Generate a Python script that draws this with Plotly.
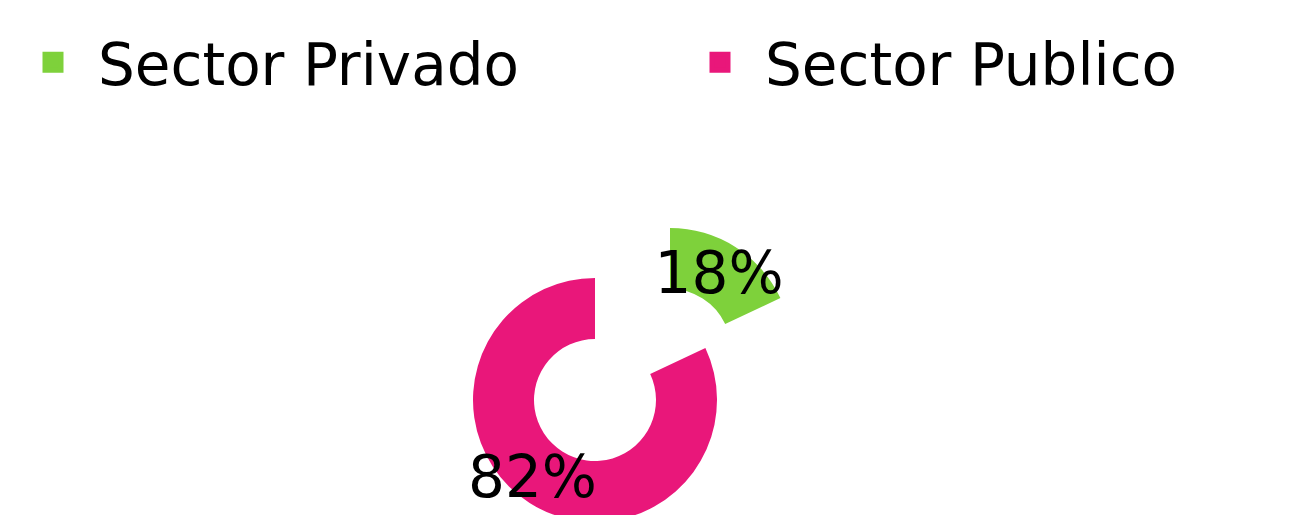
import math
import plotly.graph_objects as go

# ---- data ----
labels = ["Sector Privado", "Sector Publico"]
values = [18, 82]
colors = ["#7ED13B", "#E9177A"]

W, H = 1292, 515
FONT = "DejaVu Sans"
OFF = 8  # page body margin offset

def domain_from(cx, cy, r):
    cx -= OFF
    cy -= OFF
    return dict(x=[(cx - r) / W, (cx + r) / W],
                y=[(H - (cy + r)) / H, (H - (cy - r)) / H])

R = 122
HOLE = 0.5
pink_center = (595, 400)
green_center = (670, 350)
total = sum(values)
pct = [f"{round(100 * v / total)}%" for v in values]

fig = go.Figure()

# main ring (Sector Publico visible, Sector Privado slice hidden)
fig.add_trace(go.Pie(
    labels=labels, values=values, sort=False, direction="clockwise", rotation=0,
    hole=HOLE, marker=dict(colors=["rgba(0,0,0,0)", colors[1]], line=dict(width=0)),
    textinfo="none",
    domain=domain_from(*pink_center, R), showlegend=False, hoverinfo="label+percent",
))
# exploded slice (Sector Privado)
fig.add_trace(go.Pie(
    labels=labels, values=values, sort=False, direction="clockwise", rotation=0,
    hole=HOLE, marker=dict(colors=[colors[0], "rgba(0,0,0,0)"], line=dict(width=0)),
    texttemplate=["%{percent:.0%}", ""], textposition="inside",
    insidetextorientation="horizontal",
    textfont=dict(family=FONT, size=58, color="black"),
    domain=domain_from(*green_center, R), showlegend=False, hoverinfo="label+percent",
))

# label of the large slice, along its mid angle (best-fit style), kept inside the page
mid = 2 * math.pi * (values[0] + values[1] / 2) / total
rl = 0.95 * R
lx = pink_center[0] + rl * math.sin(mid) - OFF
fig.add_annotation(x=lx / W, y=(OFF + 2) / H, xref="paper", yref="paper",
                   text=pct[1], showarrow=False, xanchor="center", yanchor="bottom",
                   font=dict(family=FONT, size=58, color="black"))

# legend entries (one legend box per entry)
legend_ids = ["legend", "legend2"]
for lab, col, lid in zip(labels, colors, legend_ids):
    fig.add_trace(go.Scatter(x=[None], y=[None], mode="markers", name=lab, legend=lid,
                             marker=dict(symbol="square", size=16, color=col,
                                         line=dict(width=5, color=col))))

leg_common = dict(orientation="h", xanchor="left", y=1 - 10 / H, yanchor="top",
                  font=dict(family=FONT, size=58, color="black"),
                  bgcolor="rgba(0,0,0,0)", itemwidth=80)

fig.update_layout(
    width=W, height=H,
    margin=dict(l=0, r=0, t=0, b=0),
    paper_bgcolor="white", plot_bgcolor="white",
    font=dict(family=FONT, color="black"),
    uniformtext=dict(minsize=58, mode="show"),
    xaxis=dict(visible=False), yaxis=dict(visible=False),
    showlegend=True,
    legend=dict(x=0.0, **leg_common),
    legend2=dict(x=667 / W, **leg_common),
)

fig.write_html("out.html")
